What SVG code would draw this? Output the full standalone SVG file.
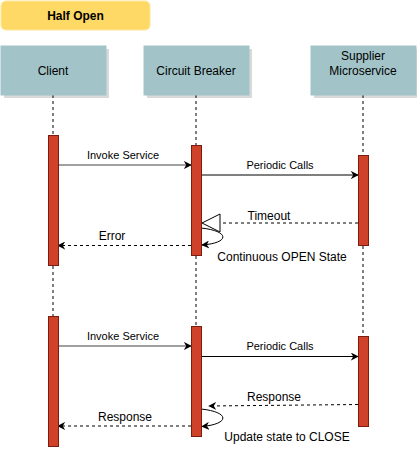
<svg xmlns="http://www.w3.org/2000/svg" width="418" height="457" viewBox="0 0 418 457">
<defs>
<style>
text{font-family:"Liberation Sans",Arial,sans-serif;fill:#000}
.t11{font-size:11px;text-anchor:middle}
.t12{font-size:12px;text-anchor:middle}
.box{fill:#a2c4c9;stroke:#a2c4c9}
.shadow{fill:#000;opacity:0.15}
.bar{fill:#cf4128;stroke:#7a1c10;stroke-width:1}
.life{stroke:#000;stroke-width:1;stroke-dasharray:3 3;fill:none}
.call{stroke:#000;stroke-width:1;fill:none}
.invoke{stroke:#808080;stroke-width:1.5;fill:none}
.ret{stroke:#000;stroke-width:1;stroke-dasharray:3 3;fill:none}
</style>
<marker id="ah" viewBox="0 0 10 10" refX="9" refY="5" markerWidth="8" markerHeight="8" markerUnits="userSpaceOnUse" orient="auto">
<path d="M0,0 L10,5 L0,10 L3,5 Z" fill="#000"/>
</marker>
<marker id="ahs" viewBox="0 0 10 10" refX="9" refY="5" markerWidth="8" markerHeight="8" markerUnits="userSpaceOnUse" orient="auto">
<path d="M0,0 L10,5 L0,10 L3,5 Z" fill="#000"/>
</marker>
</defs>

<g id="title">
<rect x="1" y="1" width="149" height="29" rx="5" ry="5" fill="#ffd966" stroke="#ffe699"/>
<text x="75.5" y="19.5" style="font-size:12px;font-weight:bold;text-anchor:middle">Half Open</text>
</g>

<g id="connectors">
<line class="life" x1="53" y1="95" x2="53" y2="135"/>
<line class="life" x1="53" y1="266" x2="53" y2="316"/>
<line class="life" x1="196" y1="95" x2="196" y2="145"/>
<line class="life" x1="196" y1="256" x2="196" y2="326"/>
<line class="life" x1="363" y1="95" x2="363" y2="155"/>
<line class="life" x1="363" y1="246" x2="363" y2="336"/>

<line class="invoke" x1="58" y1="165" x2="191" y2="165" marker-end="url(#ah)"/>
<line class="call" x1="201" y1="175" x2="358" y2="175" marker-end="url(#ah)"/>
<line class="ret" x1="358" y1="223" x2="220" y2="223"/>
<path d="M220,214 L202,223 L220,232 Z" fill="#fff" stroke="#000"/>
<line class="ret" x1="191" y1="245.5" x2="58" y2="245.5" marker-end="url(#ah)"/>
<path class="call" d="M201,228 C230,231 230,243 202,245" marker-end="url(#ahs)"/>

<line class="invoke" x1="58" y1="346" x2="191" y2="346" marker-end="url(#ah)"/>
<line class="call" x1="201" y1="356.5" x2="358" y2="356.5" marker-end="url(#ah)"/>
<line class="ret" x1="358" y1="404.5" x2="209" y2="406" marker-end="url(#ah)"/>
<line class="ret" x1="191" y1="426" x2="58" y2="426" marker-end="url(#ah)"/>
<path class="call" d="M201,409 C230,412 230,424 202,426.5" marker-end="url(#ahs)"/>
</g>

<g id="labels">
<text class="t11" x="123" y="159">Invoke Service</text>
<text class="t11" x="280" y="169">Periodic Calls</text>
<text class="t12" x="269" y="219.5">Timeout</text>
<text class="t12" x="112" y="239.5">Error</text>
<text class="t12" x="282" y="260.5">Continuous OPEN State</text>
<text class="t11" x="123" y="340">Invoke Service</text>
<text class="t11" x="280" y="349.5">Periodic Calls</text>
<text class="t12" x="274" y="400.5">Response</text>
<text class="t12" x="125" y="420.5">Response</text>
<text class="t12" x="287" y="440.5">Update state to CLOSE</text>
</g>

<g id="client">
<rect class="shadow" x="4" y="49" width="105" height="49"/>
<rect class="box" x="1" y="46" width="105" height="49"/>
<text class="t12" x="53" y="74.5">Client</text>
</g>

<g id="circuit-breaker">
<rect class="shadow" x="147" y="49" width="105" height="49"/>
<rect class="box" x="144" y="46" width="105" height="49"/>
<text class="t12" x="196" y="74.5">Circuit Breaker</text>
</g>

<g id="supplier">
<rect class="shadow" x="314" y="49" width="103" height="49"/>
<rect class="box" x="311" y="46" width="105" height="49"/>
<text class="t12" x="363" y="60">Supplier</text>
<text class="t12" x="363" y="74.5">Microservice</text>
</g>

<g id="client-activation-1"><rect class="bar" x="48.5" y="135.5" width="10" height="130"/></g>
<g id="cb-activation-1"><rect class="bar" x="191.5" y="145.5" width="10" height="110"/></g>
<g id="supplier-activation-1"><rect class="bar" x="358.5" y="155.5" width="10" height="90"/></g>
<g id="client-activation-2"><rect class="bar" x="48.5" y="316.5" width="10" height="130"/></g>
<g id="cb-activation-2"><rect class="bar" x="191.5" y="326.5" width="10" height="110"/></g>
<g id="supplier-activation-2"><rect class="bar" x="358.5" y="336.5" width="10" height="90"/></g>
</svg>
